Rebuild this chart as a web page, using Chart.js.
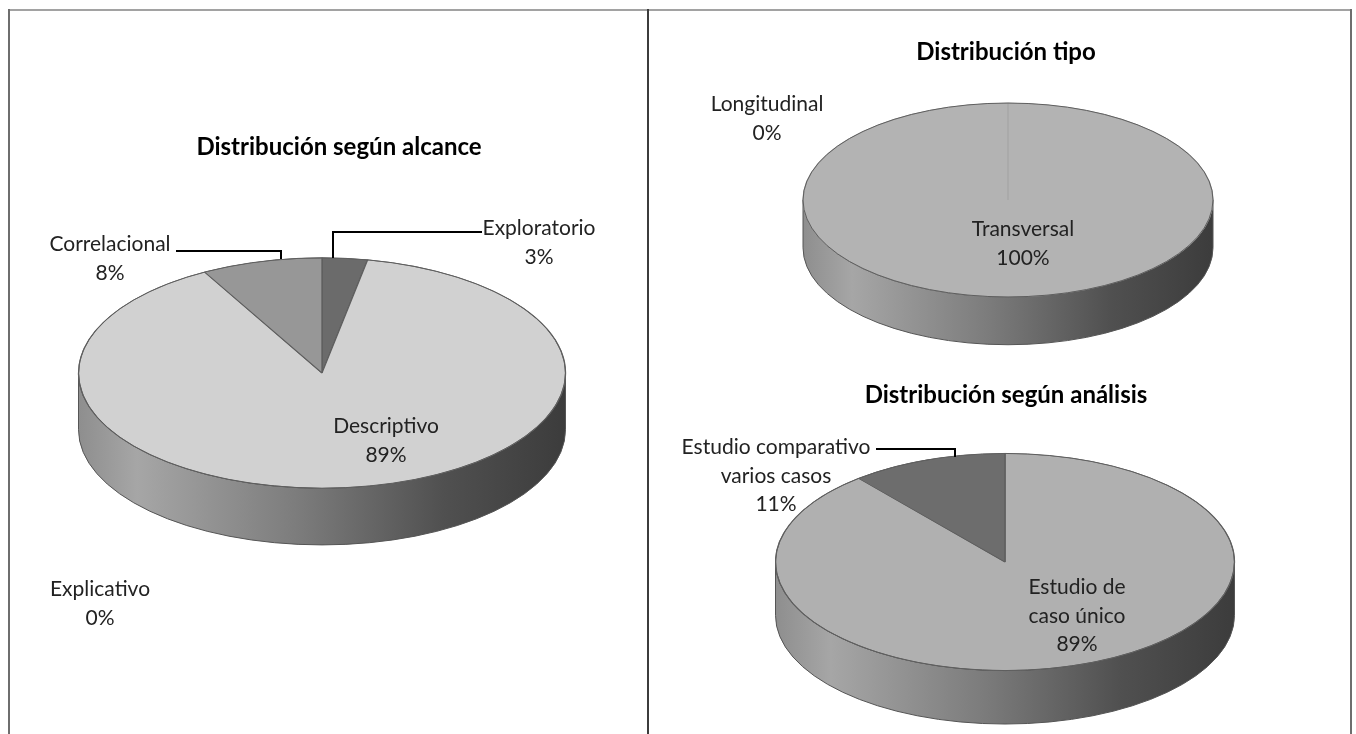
<!DOCTYPE html>
<html>
<head>
<meta charset="utf-8">
<script src="https://cdn.jsdelivr.net/npm/chart.js@4"></script>
<style>
  html, body { margin: 0; padding: 0; background: #fff; overflow: hidden; }
  canvas { position: absolute; left: 0; top: 0; }
  .line { position: absolute; }
</style>
</head>
<body>
<div class="line" style="left:8px;top:9px;width:1344px;height:2px;background:#a2a2a2"></div>
<div class="line" style="left:8px;top:9px;width:2px;height:725px;background:#6e6e6e"></div>
<div class="line" style="left:647px;top:9px;width:2px;height:725px;background:#3c3c3c"></div>
<div class="line" style="left:1350px;top:9px;width:2px;height:725px;background:#6e6e6e"></div>
<canvas id="alcance" width="1356" height="734"></canvas>
<canvas id="tipo" width="1356" height="734"></canvas>
<canvas id="analisis" width="1356" height="734"></canvas>
<script>
// datos
const alcanceLabels = ["Exploratorio", "Descriptivo", "Explicativo", "Correlacional"];
const alcanceValues = [3, 89, 0, 8];
const tipoLabels = ["Longitudinal", "Transversal"];
const tipoValues = [0, 100];
const analisisLabels = ["Estudio de caso único", "Estudio comparativo varios casos"];
const analisisValues = [89, 11];

const W = 1356, H = 734;

// pone el centro del pastel en (cx, cy)
function padFor(cx, cy) {
  return { left: cx - 10, right: W - cx - 10, top: cy - 10, bottom: H - cy - 10 };
}

// pastel "3D": lado con degradado y cara aplastada
const tilt3d = {
  id: "tilt3d",
  beforeDatasetsDraw(chart, args, opts) {
    const ctx = chart.ctx;
    const arc = chart.getDatasetMeta(0).data[0];
    const x = arc.x, y = arc.y, r = arc.outerRadius;
    const ry = r * opts.ratio, d = r * opts.depth;

    const g = ctx.createLinearGradient(x - r, 0, x + r, 0);
    g.addColorStop(0, "#8e8e8e");
    g.addColorStop(0.12, "#a6a6a6");
    g.addColorStop(0.45, "#7c7c7c");
    g.addColorStop(0.75, "#505050");
    g.addColorStop(1, "#3c3c3c");

    ctx.save();
    ctx.beginPath();
    ctx.ellipse(x, y, r, ry, 0, 0, Math.PI);
    ctx.lineTo(x - r, y + d);
    ctx.ellipse(x, y + d, r, ry, 0, Math.PI, 0, true);
    ctx.closePath();
    ctx.fillStyle = g;
    ctx.fill();
    ctx.strokeStyle = "#555";
    ctx.lineWidth = 1;
    ctx.stroke();
    ctx.restore();

    ctx.save();
    ctx.translate(x, y);
    ctx.scale(1, opts.ratio);
    ctx.translate(-x, -y);
  },
  afterDatasetsDraw(chart, args, opts) {
    const ctx = chart.ctx;
    ctx.restore();
    const arc = chart.getDatasetMeta(0).data[0];
    ctx.save();
    ctx.beginPath();
    ctx.ellipse(arc.x, arc.y, arc.outerRadius, arc.outerRadius * opts.ratio, 0, 0, Math.PI * 2);
    ctx.strokeStyle = "#5e5e5e";
    ctx.lineWidth = 1;
    ctx.stroke();
    ctx.restore();
  }
};

function wrap(ctx, text, maxW) {
  const words = text.split(" ");
  const lines = [];
  let cur = "";
  words.forEach((w) => {
    const test = cur ? cur + " " + w : w;
    if (cur && ctx.measureText(test).width > maxW) {
      lines.push(cur);
      cur = w;
    } else {
      cur = test;
    }
  });
  if (cur) lines.push(cur);
  return lines;
}

// título, etiquetas de datos y líneas guía
const pieText = {
  id: "pieText",
  afterDraw(chart, args, opts) {
    const ctx = chart.ctx;
    const data = chart.data.datasets[0].data;
    const names = chart.data.labels;
    const total = data.reduce((a, b) => a + b, 0);
    ctx.save();
    ctx.textAlign = "center";
    ctx.textBaseline = "alphabetic";
    ctx.fillStyle = "#000";
    ctx.font = "bold 24px Lato";
    ctx.fillText(opts.title, opts.titleX, opts.titleY);

    ctx.font = "21px Lato";
    opts.labels.forEach((lab, i) => {
      if (lab.leader) {
        ctx.beginPath();
        ctx.moveTo(lab.leader[0][0], lab.leader[0][1]);
        for (let k = 1; k < lab.leader.length; k++) ctx.lineTo(lab.leader[k][0], lab.leader[k][1]);
        ctx.strokeStyle = "#000";
        ctx.lineWidth = 2;
        ctx.stroke();
      }
      const lines = wrap(ctx, names[i], lab.width || 400);
      lines.push(Math.round((data[i] / total) * 100) + "%");
      ctx.fillStyle = "#222";
      lines.forEach((t, j) => ctx.fillText(t, lab.x, lab.y + j * 28.5));
    });
    ctx.restore();
  }
};

function makePie(id, labels, values, colors, edge, cx, cy, r, text) {
  return new Chart(document.getElementById(id), {
    type: "pie",
    data: {
      labels: labels,
      datasets: [{
        data: values,
        backgroundColor: colors,
        borderColor: edge,
        borderWidth: 1.3,
        radius: r,
        clip: false
      }]
    },
    options: {
      responsive: false,
      animation: false,
      events: [],
      devicePixelRatio: 1,
      layout: { padding: padFor(cx, cy) },
      plugins: {
        legend: { display: false },
        tooltip: { enabled: false },
        tilt3d: { ratio: 0.473, depth: 0.233 },
        pieText: text
      }
    },
    plugins: [tilt3d, pieText]
  });
}

makePie("alcance", alcanceLabels, alcanceValues,
  ["#6b6b6b", "#d1d1d1", "#b0b0b0", "#979797"], "#5e5e5e", 322, 373, 243.5, {
    title: "Distribución según alcance", titleX: 339, titleY: 155,
    labels: [
      { x: 539, y: 235, leader: [[482, 232], [333, 232], [333, 258]] },
      { x: 386, y: 433 },
      { x: 100, y: 596 },
      { x: 110, y: 251, leader: [[176, 251], [281, 251], [281, 259]] }
    ]
  });

makePie("tipo", tipoLabels, tipoValues,
  ["#8a8a8a", "#b3b3b3"], "#a6a6a6", 1008, 200, 205, {
    title: "Distribución tipo", titleX: 1006, titleY: 60,
    labels: [
      { x: 767, y: 111 },
      { x: 1023, y: 236 }
    ]
  });

makePie("analisis", analisisLabels, analisisValues,
  ["#b0b0b0", "#6d6d6d"], "#5e5e5e", 1005, 562, 229.5, {
    title: "Distribución según análisis", titleX: 1006, titleY: 403,
    labels: [
      { x: 1077, y: 594, width: 110 },
      { x: 776, y: 454, width: 210, leader: [[876, 449], [955, 449], [955, 457]] }
    ]
  });
</script>
</body>
</html>
